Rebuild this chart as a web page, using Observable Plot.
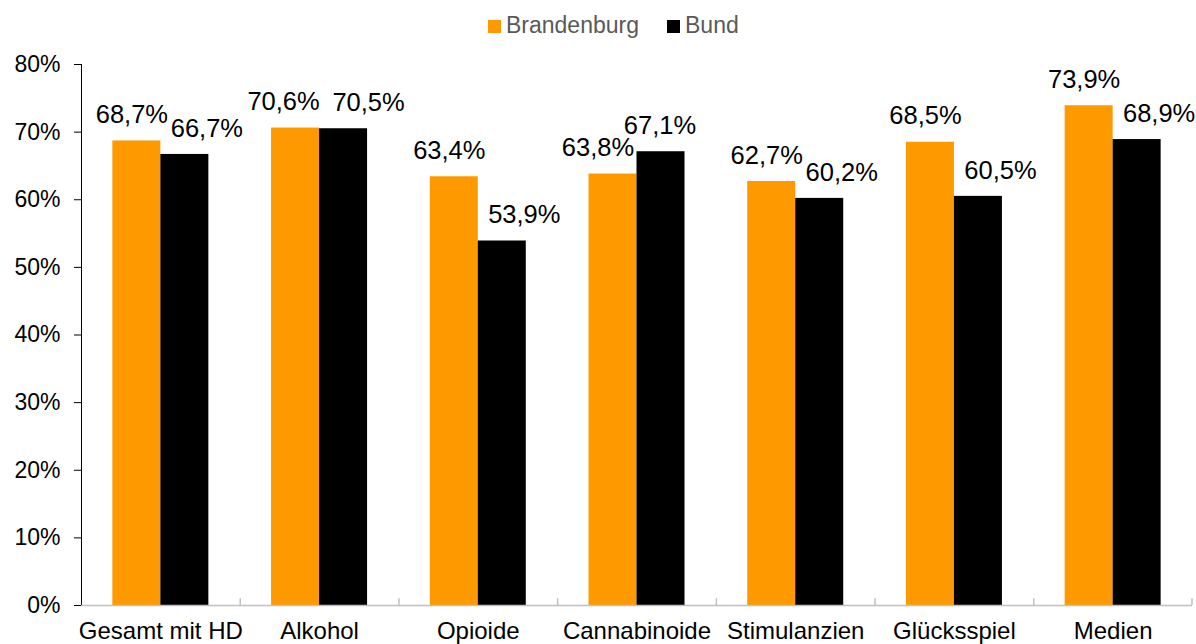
<!DOCTYPE html>
<html>
<head>
<meta charset="utf-8">
<script src="https://cdn.jsdelivr.net/npm/d3@7"></script>
<script src="https://cdn.jsdelivr.net/npm/@observablehq/plot@0.6"></script>
<style>
  html, body { margin: 0; padding: 0; background: #fff; overflow: hidden; }
  body { width: 1196px; height: 644px; font-family: "Liberation Sans", Arial, sans-serif; }
  #legend { position: relative; height: 50px; width: 1196px; }
  .sw { position: absolute; top: 20px; width: 13px; height: 13px; }
  .lt { position: absolute; top: 12px; font-size: 23px; line-height: 26px; color: #595959; }
  #chart svg { display: block; overflow: visible; }
</style>
</head>
<body>
<div id="legend"></div>
<div id="chart"></div>
<script>
const categories = ["Gesamt mit HD", "Alkohol", "Opioide", "Cannabinoide", "Stimulanzien", "Glücksspiel", "Medien"];
const seriesNames = ["Brandenburg", "Bund"];
const brandenburg = [68.7, 70.6, 63.4, 63.8, 62.7, 68.5, 73.9];
const bund = [66.7, 70.5, 53.9, 67.1, 60.2, 60.5, 68.9];
const yTicks = [0, 10, 20, 30, 40, 50, 60, 70, 80];
const colors = ["#FF9900", "#000000"];

const data = [];
categories.forEach((c, i) => {
  data.push({category: c, series: seriesNames[0], value: brandenburg[i]});
  data.push({category: c, series: seriesNames[1], value: bund[i]});
});

// legend
const legend = document.getElementById("legend");
legend.innerHTML = `
  <div class="sw" style="left:488px;background:${colors[0]}"></div>
  <div class="lt" style="left:506px">${seriesNames[0]}</div>
  <div class="sw" style="left:667px;background:${colors[1]}"></div>
  <div class="lt" style="left:685px">${seriesNames[1]}</div>`;

const W = 1196, mL = 81, mR = 4;
const bw = (W - mL - mR) / categories.length; // band width
const barW = 48;
const outer = bw / 2 - barW;
const fmt = v => v.toFixed(1).replace(".", ",") + "%";

const isB = d => d.series === seriesNames[0];
const lblSize = 25.5;

// label nudges per group of categories (style only)
const groups = [
  {cats: ["Gesamt mit HD", "Opioide", "Stimulanzien", "Glücksspiel", "Medien"], b: -5, n: 22},
  {cats: ["Alkohol"], b: -12, n: 25},
  {cats: ["Cannabinoide"], b: -15, n: -1}
];
const labelMarks = groups.flatMap(g => [
  Plot.text(data.filter(d => isB(d) && g.cats.includes(d.category)), {x: "category", y: "value", text: d => fmt(d.value), dx: -barW / 2 + g.b, dy: -26, fontSize: lblSize, fill: "#000"}),
  Plot.text(data.filter(d => !isB(d) && g.cats.includes(d.category)), {x: "category", y: "value", text: d => fmt(d.value), dx: barW / 2 + g.n, dy: -26, fontSize: lblSize, fill: "#000"})
]);

const plot = Plot.plot({
  width: W,
  height: 610,
  marginLeft: mL,
  marginRight: mR,
  marginTop: 14,
  marginBottom: 55,
  style: {fontFamily: '"Liberation Sans", Arial, sans-serif', fontSize: "23px", color: "#000", background: "#fff", overflow: "visible"},
  x: {domain: categories, padding: 0, round: false, axis: null},
  y: {domain: [0, 80], ticks: yTicks, tickFormat: d => d + "%", tickSize: 7, tickPadding: 14, line: true, label: null, grid: false},
  marks: [
    Plot.barY(data.filter(isB), {x: "category", y: "value", fill: colors[0], insetLeft: outer, insetRight: bw / 2}),
    Plot.barY(data.filter(d => !isB(d)), {x: "category", y: "value", fill: colors[1], insetLeft: bw / 2, insetRight: outer}),
    Plot.ruleY([0], {stroke: "#c0c0c0", strokeWidth: 1.5}),
    Plot.ruleX(categories.slice(1), {x: d => d, dx: -bw / 2, y1: 0, y2: 1, stroke: "#c0c0c0", strokeWidth: 1.5}),
    Plot.ruleX(categories.slice(-1), {x: d => d, dx: bw / 2 - 0.5, y1: 0, y2: 1, stroke: "#c0c0c0", strokeWidth: 1.5}),
    ...labelMarks,
    // category labels
    Plot.text(categories, {x: d => d, frameAnchor: "bottom", dy: 33, fontSize: 24, fill: "#000"})
  ]
});
document.getElementById("chart").appendChild(plot);
</script>
</body>
</html>
